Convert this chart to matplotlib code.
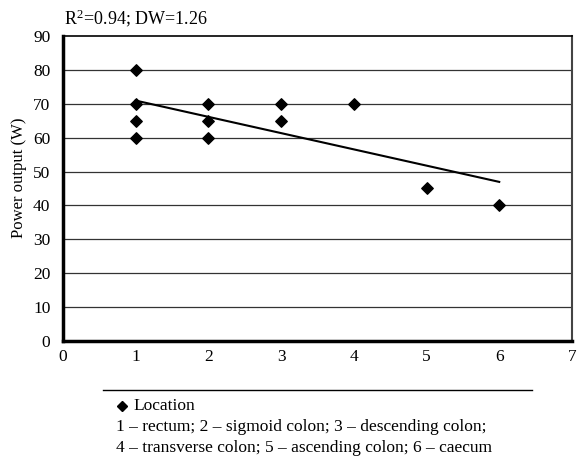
import numpy as np
import matplotlib.pyplot as plt
from matplotlib.lines import Line2D

plt.rcParams['font.family'] = ['Liberation Serif', 'DejaVu Serif']
plt.rcParams['mathtext.fontset'] = 'stix'

# location index vs power output (W)
location = [1, 1, 1, 1, 2, 2, 2, 3, 3, 4, 5, 6]
power = [80, 70, 65, 60, 70, 65, 60, 70, 65, 70, 45, 40]
y_ticks = [0, 10, 20, 30, 40, 50, 60, 70, 80, 90]
x_ticks = [0, 1, 2, 3, 4, 5, 6, 7]
stats_text = 'R$^{\\mathregular{2}}$=0.94; DW=1.26'
legend_lines = ['1 \u2013 rectum; 2 \u2013 sigmoid colon; 3 \u2013 descending colon;',
                '4 \u2013 transverse colon; 5 \u2013 ascending colon; 6 \u2013 caecum']

fs = 12.5

fig = plt.figure(figsize=(5.81, 4.58), dpi=100)
ax = fig.add_axes([0.1084, 0.2555, 0.876, 0.666])

for t in y_ticks[1:-1]:
    ax.axhline(t, color='#333333', lw=0.9, zorder=1)

ax.scatter(location, power, marker='D', s=34, color='black', zorder=3)

# linear trend through all points
coef = np.polyfit(location, power, 1)
xs = np.array([min(location), max(location)])
ax.plot(xs, np.polyval(coef, xs), color='black', lw=1.5, zorder=2)

ax.set_xlim(0, 7)
ax.set_ylim(0, 90)
ax.set_xticks(x_ticks)
ax.set_yticks(y_ticks)
ax.tick_params(length=0, labelsize=fs, colors='black', pad=6)
ax.tick_params(axis='y', pad=9)
ax.set_ylabel('Power output (W)', fontsize=12)
ax.yaxis.set_label_coords(-0.071, 0.534)

ax.spines['left'].set_linewidth(2.5)
ax.spines['bottom'].set_linewidth(2.5)
ax.spines['top'].set_linewidth(1.2)
ax.spines['right'].set_linewidth(1.5)
ax.spines['right'].set_color('#444444')

fig.text(64 / 581, 1 - 18 / 458, stats_text, fontsize=13, va='center', ha='left')

# legend area below the plot
fig.add_artist(Line2D([103 / 581, 532 / 581], [1 - 390 / 458, 1 - 390 / 458],
                      color='black', lw=1))
fig.add_artist(Line2D([122 / 581], [1 - 406 / 458], marker='D', markersize=5.5,
                      color='black', linestyle='none'))
fig.text(133 / 581, 1 - 406 / 458, 'Location', fontsize=fs, va='center', ha='left')
fig.text(116 / 581, 1 - 427 / 458, legend_lines[0], fontsize=fs, va='center', ha='left')
fig.text(116 / 581, 1 - 448 / 458, legend_lines[1], fontsize=fs, va='center', ha='left')

fig.savefig('out.png', dpi=100)
